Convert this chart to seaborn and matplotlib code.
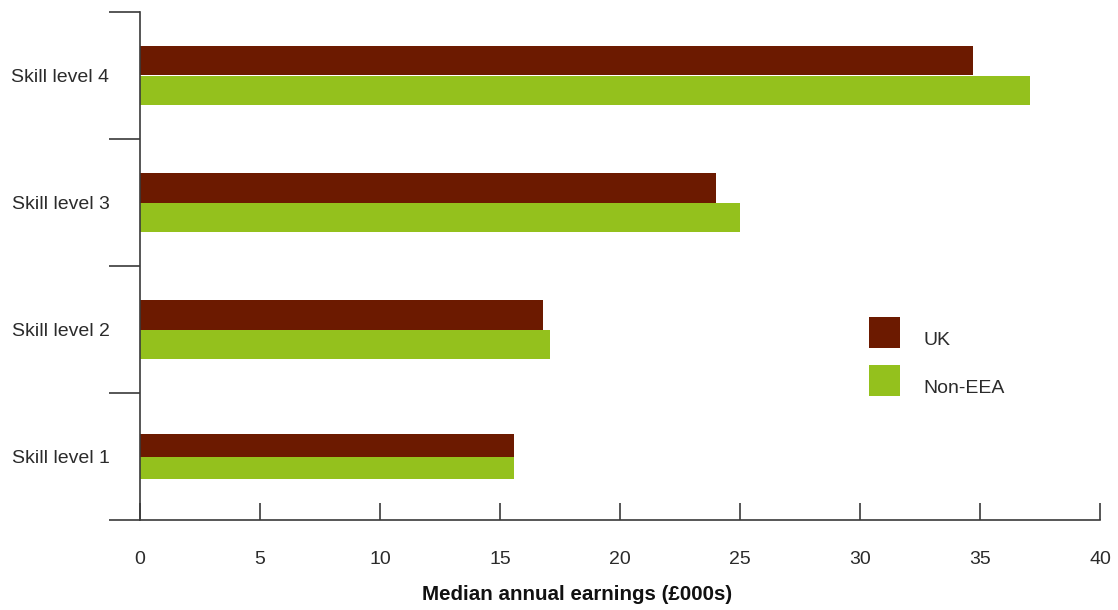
import matplotlib
matplotlib.use("Agg")
import matplotlib.pyplot as plt
from matplotlib.ticker import FixedLocator
from matplotlib.patches import Patch
import seaborn as sns
import pandas as pd

# Median annual earnings (£000s) by skill level and origin
skill_levels = ["Skill level 4", "Skill level 3", "Skill level 2", "Skill level 1"]
uk_earnings = [34.7, 24.0, 16.8, 15.6]
non_eea_earnings = [37.1, 25.0, 17.1, 15.6]
groups = ["UK", "Non-EEA"]
x_ticks = [0, 5, 10, 15, 20, 25, 30, 35, 40]

df = pd.DataFrame({
    "skill": skill_levels * 2,
    "group": [groups[0]] * len(skill_levels) + [groups[1]] * len(skill_levels),
    "earnings": uk_earnings + non_eea_earnings,
})

palette = {"UK": "#6c1a00", "Non-EEA": "#94c11d"}
text_color = "#2b2b2b"
axis_color = "#3a3a3a"

sns.set_theme(style="white")
plt.rcParams["font.family"] = ["Liberation Sans", "DejaVu Sans"]

fig = plt.figure(figsize=(11.18, 6.10), dpi=100)
ax = fig.add_axes([140 / 1118, 90 / 610, 960 / 1118, 508 / 610])

sns.barplot(data=df, y="skill", x="earnings", hue="group", order=skill_levels,
            hue_order=groups, palette=palette, orient="h", width=0.47,
            saturation=1, ax=ax, legend=False)

# the lowest skill level is drawn with slimmer bars
slim = 0.18
for k, container in enumerate(ax.containers):
    bar = container.patches[3]
    bar.set_height(slim)
    bar.set_y(3 - slim if k == 0 else 3)
for container in ax.containers:
    for bar in container.patches:
        bar.set_edgecolor("none")

ax.set_xlim(0, 40)
ax.set_ylim(3.5, -0.5)
ax.set_xticks(x_ticks)
ax.set_xticklabels([str(t) for t in x_ticks])

for side in ["top", "right"]:
    ax.spines[side].set_visible(False)
for side in ["left", "bottom"]:
    ax.spines[side].set_color(axis_color)
    ax.spines[side].set_linewidth(1.2)

ax.tick_params(axis="x", direction="in", length=12, width=1.2, color=axis_color,
               pad=22, labelsize=14, labelcolor=text_color, bottom=True)
ax.tick_params(axis="y", which="major", length=0, pad=22, labelsize=14,
               labelcolor=text_color, left=True)
ax.yaxis.set_minor_locator(FixedLocator([-0.5, 0.5, 1.5, 2.5, 3.5]))
ax.tick_params(axis="y", which="minor", direction="out", length=22, width=1.2,
               color=axis_color, left=True)

ax.set_ylabel("")
ax.set_xlabel("Median annual earnings (£000s)", fontsize=14.8, fontweight="bold",
              color="#111111")
ax.xaxis.set_label_coords(0.455, -0.128)

handles = [Patch(facecolor=palette[g], edgecolor="none") for g in groups]
leg = ax.legend(handles, groups, loc="upper left",
                bbox_to_anchor=(869 / 1118, 1 - 317 / 610), bbox_transform=fig.transFigure,
                frameon=False, fontsize=14, handlelength=1.6, handleheight=2.07,
                handletextpad=1.2, labelspacing=0.87, borderpad=0, borderaxespad=0,
                labelcolor=text_color)
# legend labels sit a little below the middle of their swatches
for t in leg.get_texts():
    t.set_y(-6.5)

fig.savefig("out.png", dpi=100, facecolor="white")
